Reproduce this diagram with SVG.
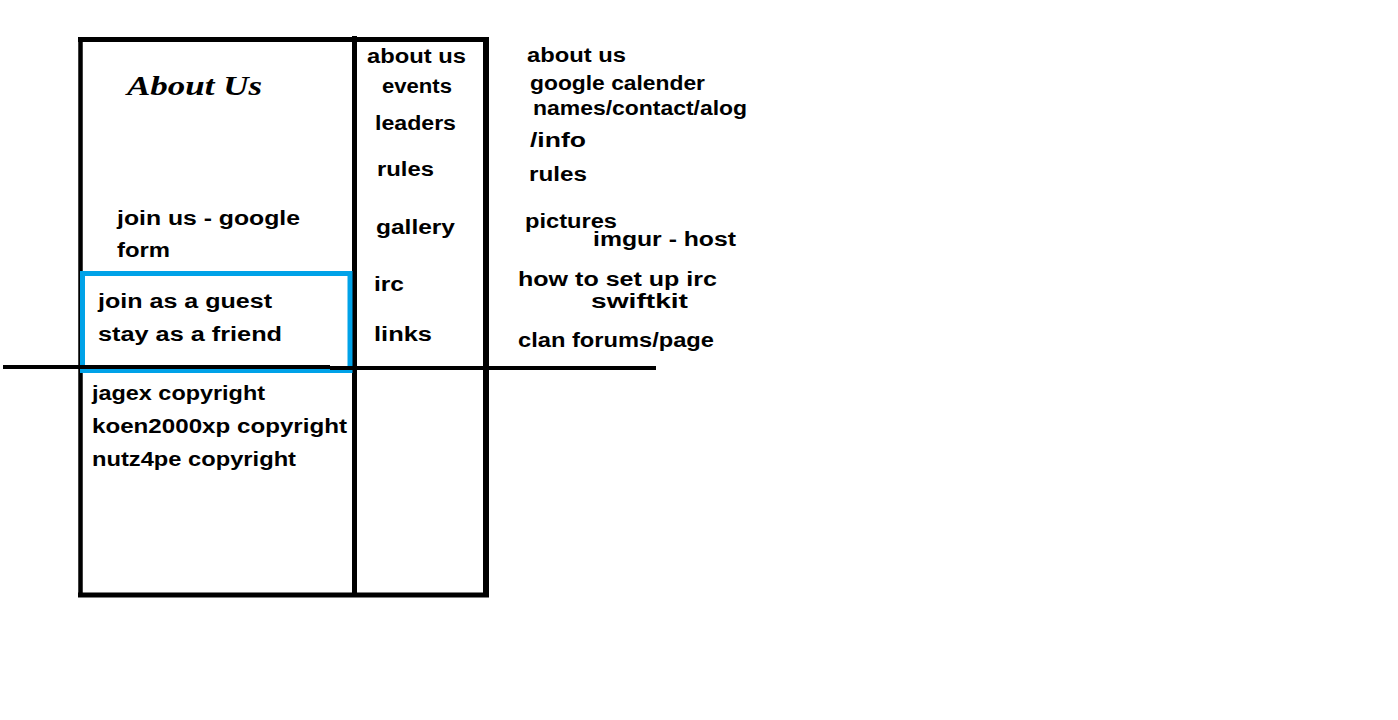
<svg xmlns="http://www.w3.org/2000/svg" width="1398" height="720" viewBox="0 0 1398 720">
<style>
.t{font-family:"Liberation Sans","DejaVu Sans",sans-serif;font-weight:bold;font-size:20px;fill:#000}
.ln{stroke:#000;fill:none}
</style>
<rect width="1398" height="720" fill="#fff"/>
<g id="frame">
<line class="ln" x1="80.5" y1="37" x2="80.5" y2="597" stroke-width="4.5"/>
<line class="ln" x1="78" y1="39.5" x2="489" y2="39.5" stroke-width="5"/>
<line class="ln" x1="78" y1="595" x2="489" y2="595" stroke-width="5"/>
<line class="ln" x1="486" y1="37" x2="486" y2="597" stroke-width="6"/>
<line class="ln" x1="354.5" y1="36" x2="354.5" y2="597" stroke-width="5"/>
</g>
<g id="guest-box">
<rect x="82.5" y="273.5" width="267.5" height="97" fill="none" stroke="#00a2e8" stroke-width="5"/>
</g>
<g id="divider">
<line class="ln" x1="3" y1="367" x2="330" y2="367" stroke-width="4"/>
<line class="ln" x1="330" y1="368" x2="656" y2="368" stroke-width="4"/>
</g>
<g id="left-texts">
<text x="127" y="95" font-family="Liberation Serif,serif" font-weight="bold" font-style="italic" font-size="27" textLength="135" lengthAdjust="spacingAndGlyphs">About Us</text>
<text class="t" x="117" y="225" textLength="183" lengthAdjust="spacingAndGlyphs">join us - google</text>
<text class="t" x="117" y="257" textLength="53" lengthAdjust="spacingAndGlyphs">form</text>
<text class="t" x="98" y="308" textLength="174" lengthAdjust="spacingAndGlyphs">join as a guest</text>
<text class="t" x="98" y="341" textLength="184" lengthAdjust="spacingAndGlyphs">stay as a friend</text>
<text class="t" x="92" y="400" textLength="173" lengthAdjust="spacingAndGlyphs">jagex copyright</text>
<text class="t" x="92" y="433" textLength="255" lengthAdjust="spacingAndGlyphs">koen2000xp copyright</text>
<text class="t" x="92" y="466" textLength="204" lengthAdjust="spacingAndGlyphs">nutz4pe copyright</text>
</g>
<g id="menu-texts">
<text class="t" x="367" y="63" textLength="99" lengthAdjust="spacingAndGlyphs">about us</text>
<text class="t" x="382" y="93" textLength="70" lengthAdjust="spacingAndGlyphs">events</text>
<text class="t" x="375" y="130" textLength="81" lengthAdjust="spacingAndGlyphs">leaders</text>
<text class="t" x="377" y="176" textLength="57" lengthAdjust="spacingAndGlyphs">rules</text>
<text class="t" x="376" y="234" textLength="79" lengthAdjust="spacingAndGlyphs">gallery</text>
<text class="t" x="374" y="291" textLength="30" lengthAdjust="spacingAndGlyphs">irc</text>
<text class="t" x="374" y="341" textLength="58" lengthAdjust="spacingAndGlyphs">links</text>
</g>
<g id="notes-texts">
<text class="t" x="527" y="62" textLength="99" lengthAdjust="spacingAndGlyphs">about us</text>
<text class="t" x="530" y="90" textLength="175" lengthAdjust="spacingAndGlyphs">google calender</text>
<text class="t" x="533" y="115" textLength="214" lengthAdjust="spacingAndGlyphs">names/contact/alog</text>
<text class="t" x="530" y="147" textLength="56" lengthAdjust="spacingAndGlyphs">/info</text>
<text class="t" x="529" y="181" textLength="58" lengthAdjust="spacingAndGlyphs">rules</text>
<text class="t" x="525" y="228" textLength="92" lengthAdjust="spacingAndGlyphs" font-size="19">pictures</text>
<text class="t" x="593" y="246" textLength="143" lengthAdjust="spacingAndGlyphs" font-size="19">imgur - host</text>
<text class="t" x="518" y="286" textLength="199" lengthAdjust="spacingAndGlyphs" font-size="19">how to set up irc</text>
<text class="t" x="591" y="308" textLength="97" lengthAdjust="spacingAndGlyphs" font-size="19">swiftkit</text>
<text class="t" x="518" y="347" textLength="196" lengthAdjust="spacingAndGlyphs">clan forums/page</text>
</g>
</svg>
